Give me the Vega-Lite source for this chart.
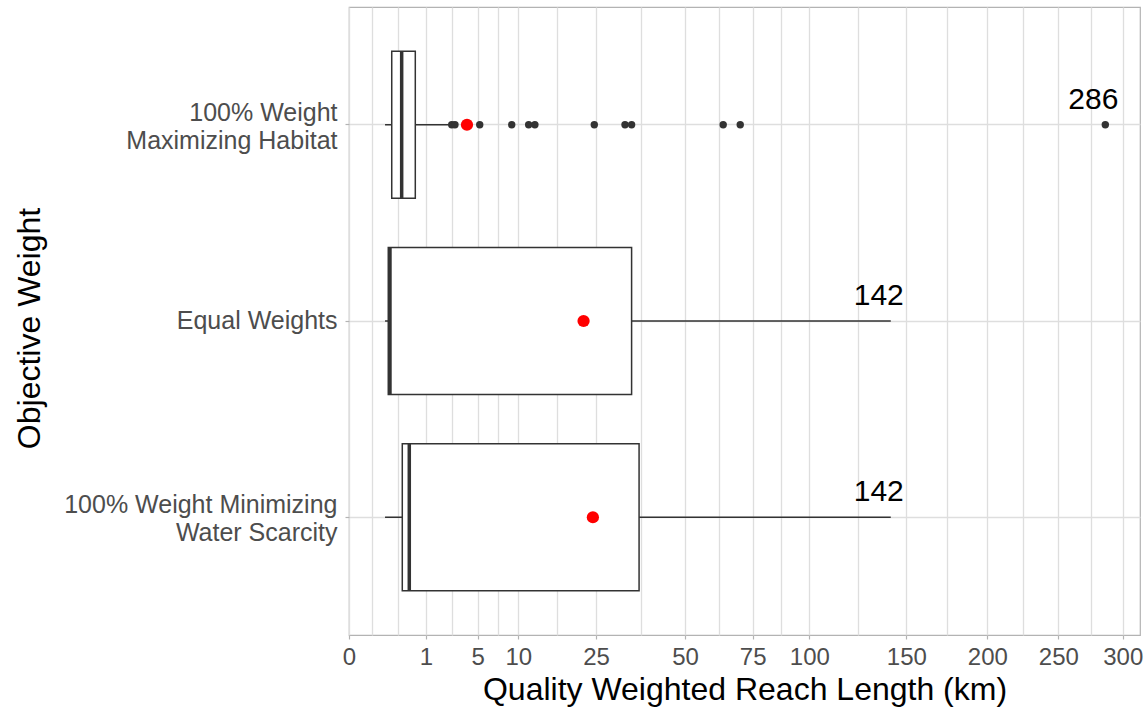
{
  "$schema": "https://vega.github.io/schema/vega-lite/v6.json",
  "autosize": "none",
  "width": 791,
  "height": 628,
  "padding": {"left": 349, "top": 7, "right": 8, "bottom": 75},
  "background": "white",
  "config": {
    "font": "Liberation Sans",
    "view": {"stroke": "#B3B3B3", "strokeWidth": 1.2},
    "axis": {"gridColor": "#DEDEDE", "gridWidth": 1.3, "domain": false, "tickColor": "#B3B3B3", "tickSize": 4, "tickWidth": 1.2, "labelColor": "#4D4D4D", "labelFontSize": 24, "labelFont": "Liberation Sans", "titleFont": "Liberation Sans", "titleFontSize": 32, "titleFontWeight": "normal", "titleColor": "#000000"}
  },
  "datasets": {
    "boxes": [
      {"group": "100% Weight|Maximizing Habitat", "min": 0.468, "q1": 0.555, "median": 0.684, "q3": 0.861, "max": 2.86, "mean": 4.17},
      {"group": "Equal Weights", "min": 0.468, "q1": 0.51, "median": 0.532, "q3": 35.0, "max": 142, "mean": 22.6},
      {"group": "100% Weight Minimizing|Water Scarcity", "min": 0.468, "q1": 0.692, "median": 0.783, "q3": 37.1, "max": 142, "mean": 24.4}
    ],
    "outliers": [
      {"group": "100% Weight|Maximizing Habitat", "value": 2.99},
      {"group": "100% Weight|Maximizing Habitat", "value": 3.24},
      {"group": "100% Weight|Maximizing Habitat", "value": 5.25},
      {"group": "100% Weight|Maximizing Habitat", "value": 9.19},
      {"group": "100% Weight|Maximizing Habitat", "value": 12.0},
      {"group": "100% Weight|Maximizing Habitat", "value": 13.2},
      {"group": "100% Weight|Maximizing Habitat", "value": 24.67},
      {"group": "100% Weight|Maximizing Habitat", "value": 33.15},
      {"group": "100% Weight|Maximizing Habitat", "value": 35.0},
      {"group": "100% Weight|Maximizing Habitat", "value": 64.1},
      {"group": "100% Weight|Maximizing Habitat", "value": 70.4},
      {"group": "100% Weight|Maximizing Habitat", "value": 286.5}
    ],
    "labels": [
      {"group": "100% Weight|Maximizing Habitat", "value": 286.5, "label": "286"},
      {"group": "Equal Weights", "value": 142, "label": "142"},
      {"group": "100% Weight Minimizing|Water Scarcity", "value": 142, "label": "142"}
    ]
  },
  "encoding": {
    "y": {
      "field": "group",
      "type": "nominal",
      "sort": ["100% Weight|Maximizing Habitat", "Equal Weights", "100% Weight Minimizing|Water Scarcity"],
      "scale": {"type": "band", "paddingInner": 0.25, "paddingOuter": 0.225},
      "title": "Objective Weight",
      "axis": {"grid": true, "bandPosition": 0.5, "labelExpr": "split(datum.value, '|')", "labelLineHeight": 28, "labelFontSize": 25, "labelPadding": 8, "labelOffset": {"condition": {"test": "indexof(datum.value, '|') >= 0", "value": -12}, "value": 0}, "titleX": -303, "titleY": 321, "labelLimit": 400}
    }
  },
  "layer": [
    {
      "data": {"name": "boxes"},
      "mark": {"type": "rule", "color": "#333333", "strokeWidth": 1.5},
      "encoding": {
        "x": {
          "field": "min", "type": "quantitative", "title": "Quality Weighted Reach Length (km)",
          "scale": {"type": "linear", "domain": [0, 1, 5, 10, 25, 50, 75, 100, 150, 200, 250, 300, 313.4], "range": [0, 77, 128.7, 169.3, 247, 336, 403.7, 460.3, 557.3, 638.3, 709.3, 773.7, 791], "nice": false, "zero": false},
          "axis": {
            "values": [0, 0.3, 0.64, 1, 3, 5, 7.5, 10, 17.5, 25, 37.5, 50, 62.5, 75, 87.5, 100, 125, 150, 175, 200, 225, 250, 275, 300],
            "tickCount": 200,
            "labelExpr": "indexof([0,1,5,10,25,50,75,100,150,200,250,300], datum.value) >= 0 ? '' + datum.value : ''",
            "tickOpacity": {"condition": {"test": "indexof([0,1,5,10,25,50,75,100,150,200,250,300], datum.value) < 0", "value": 0}, "value": 1},
            "labelPadding": 6,
            "titlePadding": 5,
            "labelFlush": false,
            "labelOverlap": false
          }
        },
        "x2": {"field": "max"}
      }
    },
    {
      "data": {"name": "boxes"},
      "mark": {"type": "bar", "fill": "white", "stroke": "#333333", "strokeWidth": 1.5},
      "encoding": {
        "x": {"field": "q1", "type": "quantitative", "title": "Quality Weighted Reach Length (km)"},
        "x2": {"field": "q3"}
      }
    },
    {
      "data": {"name": "boxes"},
      "mark": {"type": "tick", "color": "#333333", "thickness": 3.5, "size": 147, "opacity": 1},
      "encoding": {
        "x": {"field": "median", "type": "quantitative", "title": "Quality Weighted Reach Length (km)"}
      }
    },
    {
      "data": {"name": "outliers"},
      "mark": {"type": "circle", "color": "#333333", "size": 55, "opacity": 1},
      "encoding": {
        "x": {"field": "value", "type": "quantitative", "title": "Quality Weighted Reach Length (km)"}
      }
    },
    {
      "data": {"name": "boxes"},
      "mark": {"type": "circle", "color": "#FF0000", "size": 150, "opacity": 1},
      "encoding": {
        "x": {"field": "mean", "type": "quantitative", "title": "Quality Weighted Reach Length (km)"}
      }
    },
    {
      "data": {"name": "labels"},
      "mark": {"type": "text", "fontSize": 30, "color": "#000000", "dx": -12, "dy": -16, "baseline": "alphabetic", "align": "center", "font": "Liberation Sans"},
      "encoding": {
        "x": {"field": "value", "type": "quantitative", "title": "Quality Weighted Reach Length (km)"},
        "text": {"field": "label"}
      }
    }
  ]
}
